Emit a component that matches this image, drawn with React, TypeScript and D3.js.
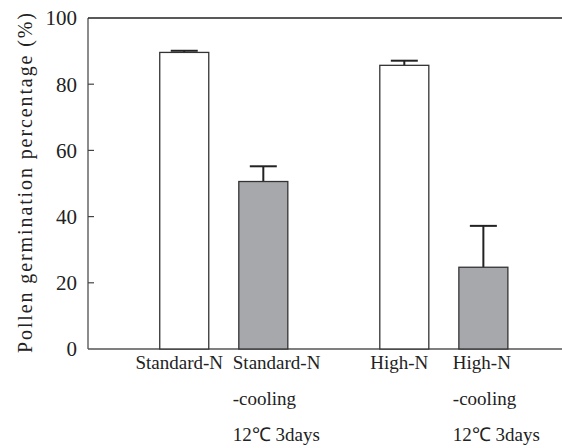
import React from 'react';
import * as d3 from 'd3';

// values
const groups = ['Standard-N', 'High-N'];
const treatments = ['control', 'cooling'];
const means = [
  [89.6, 50.6],
  [85.7, 24.7],
];
const errors = [
  [0.5, 4.6],
  [1.4, 12.5],
];
const labels = [
  [['Standard-N'], ['Standard-N', '-cooling', '12\u2103 3days']],
  [['High-N'], ['High-N', '-cooling', '12\u2103 3days']],
];
const yTicks = [0, 20, 40, 60, 80, 100];
const fills = ['#ffffff', '#a7a8ac'];

const W = 562;
const H = 448;
const margin = { top: 18, right: 0, bottom: 99, left: 88 };
const font = 'Liberation Serif';

export default function App() {
  const innerH = H - margin.top - margin.bottom;

  const y = d3.scaleLinear().domain([0, 100]).range([margin.top + innerH, margin.top]);

  const x0 = d3.scaleBand()
    .domain(groups)
    .range([margin.left, W])
    .paddingInner(0.418)
    .paddingOuter(0.286)
    .align(0.57);

  const x1 = d3.scaleBand()
    .domain(treatments)
    .range([0, x0.bandwidth()])
    .paddingInner(0.38);

  const bars = groups.flatMap((g, gi) =>
    treatments.map((t, ti) => ({
      g, t, gi, ti,
      v: means[gi][ti],
      e: errors[gi][ti],
      lab: labels[gi][ti],
      x: (x0(g) as number) + (x1(t) as number),
    }))
  );

  const bw = x1.bandwidth();
  const y0 = y(0);

  return (
    <svg width={W} height={H} style={{ position: 'absolute', left: 0, top: 0, background: '#fff', fontFamily: font }}>
      {/* frame: left, bottom, top */}
      <line x1={margin.left} x2={margin.left} y1={y(100)} y2={y0} stroke="#666" strokeWidth={1.5} />
      <line x1={margin.left} x2={W} y1={y0} y2={y0} stroke="#555" strokeWidth={1.5} />
      <line x1={margin.left} x2={W} y1={y(100)} y2={y(100)} stroke="#222" strokeWidth={1.5} />

      {yTicks.map(t => (
        <g key={t}>
          {t > 0 && t < 100 && (
            <line x1={margin.left} x2={margin.left + 6} y1={y(t)} y2={y(t)} stroke="#444" strokeWidth={1.2} />
          )}
          <text x={77} y={y(t)} dy="0.35em" textAnchor="end" style={{ fontFamily: font, fontSize: 21 }} fill="#222">
            {t}
          </text>
        </g>
      ))}

      <text
        transform={`translate(32,${(13 + 353) / 2}) rotate(-90)`}
        textAnchor="middle"
        style={{ fontFamily: font, fontSize: 20 }}
        fill="#222"
        textLength={340}
        lengthAdjust="spacing"
      >
        Pollen germination percentage (%)
      </text>

      {bars.map(b => (
        <g key={b.g + b.t}>
          <line
            x1={b.x + bw / 2} x2={b.x + bw / 2}
            y1={y(b.v)} y2={y(b.v + b.e)}
            stroke="#222" strokeWidth={2}
          />
          <line
            x1={b.x + bw / 2 - 13.5} x2={b.x + bw / 2 + 13.5}
            y1={y(b.v + b.e)} y2={y(b.v + b.e)}
            stroke="#222" strokeWidth={2}
          />
          <rect
            x={b.x} y={y(b.v)} width={bw} height={y0 - y(b.v)}
            fill={fills[b.ti]} stroke="#333" strokeWidth={1.3}
          />
          {b.lab.map((line, li) => (
            <text
              key={li}
              x={b.lab.length === 1 ? b.x + bw / 2 - 5 : b.x - 6}
              y={369 + li * 36}
              textAnchor={b.lab.length === 1 ? 'middle' : 'start'}
              style={{ fontFamily: font, fontSize: 19 }}
              fill="#222"
            >
              {line}
            </text>
          ))}
        </g>
      ))}
    </svg>
  );
}
